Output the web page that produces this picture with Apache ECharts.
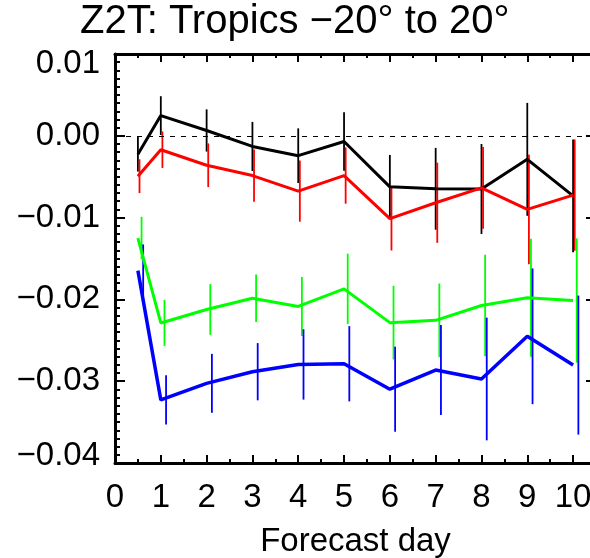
<!DOCTYPE html>
<html>
<head>
<meta charset="utf-8">
<script src="https://cdn.jsdelivr.net/npm/echarts@6/dist/echarts.min.js"></script>
<style>
  html, body { margin: 0; padding: 0; background: #fff; }
  #chart-container { width: 590px; height: 558px; }
</style>
</head>
<body>
<div id="chart-container"></div>
<script>
var days = [0.5, 1, 2, 3, 4, 5, 6, 7, 8, 9, 10];
var xTicks = [0, 1, 2, 3, 4, 5, 6, 7, 8, 9, 10];
var yTicks = [-0.04, -0.03, -0.02, -0.01, 0.00, 0.01];

var blackVals = [-0.00225, 0.00247, 0.00065, -0.0013, -0.00243, -0.00069, -0.00624, -0.00648, -0.0065, -0.00288, -0.00735];
var blackErr  = [0.0021, 0.00237, 0.00258, 0.003, 0.00334, 0.00358, 0.0039, 0.005, 0.0055, 0.0069, 0.0069];
var redVals   = [-0.00494, -0.0017, -0.0036, -0.00486, -0.00676, -0.00486, -0.01012, -0.00818, -0.00636, -0.009, -0.00725];
var redErr    = [0.00207, 0.00223, 0.00267, 0.0032, 0.00374, 0.00344, 0.0039, 0.0049, 0.005, 0.0067, 0.0068];
var greenVals = [-0.0125, -0.02288, -0.02123, -0.01985, -0.02086, -0.01871, -0.02284, -0.02256, -0.02074, -0.0198, -0.02013];
var greenErr  = [0.0026, 0.0028, 0.0031, 0.0029, 0.0036, 0.0043, 0.0045, 0.0045, 0.0062, 0.0072, 0.0076];
var blueVals  = [-0.01648, -0.03228, -0.03026, -0.02884, -0.02795, -0.02787, -0.03098, -0.02864, -0.02973, -0.02451, -0.02803];
var blueErr   = [0.0032, 0.003, 0.0036, 0.0035, 0.0043, 0.0046, 0.0052, 0.0055, 0.0075, 0.0083, 0.0085];

var dom = document.getElementById("chart-container");
var myChart = echarts.init(dom, null, { renderer: "canvas" });

var FONT = "Liberation Sans";

function lineData(vals) {
  return days.map(function (d, i) { return [d, vals[i]]; });
}
function errData(vals, errs) {
  return days.map(function (d, i) { return [d, vals[i], errs[i]]; });
}

function lineSeries(vals, color, width) {
  return {
    type: "line",
    data: lineData(vals),
    symbol: "none",
    lineStyle: { color: color, width: width },
    animation: false,
    z: 3
  };
}

// error bars, each colour shifted a little to the right
function errSeries(vals, errs, color, shift) {
  return {
    type: "custom",
    data: errData(vals, errs),
    encode: { x: 0, y: 1 },
    animation: false,
    z: 2,
    renderItem: function (params, api) {
      var x = api.value(0) + shift;
      var v = api.value(1);
      var e = api.value(2);
      var p1 = api.coord([x, v + e]);
      var p2 = api.coord([x, v - e]);
      return {
        type: "line",
        shape: { x1: p1[0], y1: p1[1], x2: p2[0], y2: p2[1] },
        style: { stroke: color, lineWidth: 1.8 }
      };
    }
  };
}

// top label pushed down, bottom label pushed up, like the original plot
function fmtY(v) {
  var s = Math.round(v * 100) / 100;
  if (Math.abs(s) < 1e-9) s = 0;
  var txt = (s < 0 ? "\u2212" : "") + Math.abs(s).toFixed(2);
  if (s === yTicks[yTicks.length - 1]) return "{hi|" + txt + "}";
  if (s === yTicks[0]) return "{lo|" + txt + "}";
  return txt;
}

var labelFont = { fontFamily: FONT, fontSize: 33, color: "#000" };

var axisLine = { show: true, onZero: false, lineStyle: { color: "#000", width: 3 } };

var option = {
  backgroundColor: "#fff",
  title: {
    text: "Z2T: Tropics \u221220\u00b0 to 20\u00b0",
    left: 80,
    top: 2,
    padding: 0,
    textStyle: { fontFamily: FONT, fontSize: 40, fontWeight: "normal", color: "#000" }
  },
  grid: { left: 115, top: 54, width: 481, height: 409, outerBoundsMode: "none", containLabel: false },
  xAxis: [
    {
      type: "value",
      position: "bottom",
      min: 0,
      max: 10.5,
      interval: 1,
      axisLine: axisLine,
      axisTick: { inside: true, length: 8, lineStyle: { color: "#000", width: 2 } },
      minorTick: { show: true, splitNumber: 2, length: 4, lineStyle: { color: "#000", width: 2 } },
      splitLine: { show: false },
      axisLabel: {
        showMaxLabel: false,
        margin: 18,
        fontFamily: FONT,
        fontSize: 33,
        color: "#000",
        formatter: function (v) { return xTicks.indexOf(v) >= 0 ? String(v) : ""; }
      },
      name: "Forecast day",
      nameLocation: "middle",
      nameGap: 62,
      nameTextStyle: { fontFamily: FONT, fontSize: 33, color: "#000" }
    },
    {
      type: "value",
      position: "top",
      min: 0,
      max: 10.5,
      interval: 1,
      axisLine: axisLine,
      axisTick: { inside: true, length: 8, lineStyle: { color: "#000", width: 2 } },
      minorTick: { show: true, splitNumber: 2, length: 4, lineStyle: { color: "#000", width: 2 } },
      splitLine: { show: false },
      axisLabel: { show: false }
    }
  ],
  yAxis: [
    {
      type: "value",
      position: "left",
      min: yTicks[0],
      max: yTicks[yTicks.length - 1],
      interval: 0.01,
      axisLine: axisLine,
      axisTick: { inside: true, length: 10, lineStyle: { color: "#000", width: 2 } },
      minorTick: { show: true, splitNumber: 10, length: 5, lineStyle: { color: "#000", width: 2 } },
      splitLine: { show: false },
      axisLabel: {
        margin: 15,
        fontFamily: FONT,
        fontSize: 33,
        color: "#000",
        formatter: fmtY,
        rich: {
          hi: Object.assign({ padding: [20, 0, 0, 0] }, labelFont),
          lo: Object.assign({ padding: [0, 0, 14, 0] }, labelFont)
        }
      }
    },
    {
      type: "value",
      position: "right",
      min: yTicks[0],
      max: yTicks[yTicks.length - 1],
      interval: 0.01,
      axisLine: axisLine,
      axisTick: { inside: true, length: 10, lineStyle: { color: "#000", width: 2 } },
      minorTick: { show: true, splitNumber: 10, length: 5, lineStyle: { color: "#000", width: 2 } },
      splitLine: { show: false },
      axisLabel: { show: false }
    }
  ],
  series: [
    {
      type: "line",
      data: [],
      markLine: {
        silent: true,
        symbol: "none",
        label: { show: false },
        lineStyle: { color: "#000", width: 1.2, type: [5, 6] },
        data: [{ yAxis: 0 }]
      },
      animation: false
    },
    errSeries(blackVals, blackErr, "#000000", 0),
    lineSeries(blackVals, "#000000", 3),
    errSeries(redVals, redErr, "#ff0000", 0.035),
    lineSeries(redVals, "#ff0000", 3),
    errSeries(greenVals, greenErr, "#00ff00", 0.08),
    lineSeries(greenVals, "#00ff00", 3),
    errSeries(blueVals, blueErr, "#0000ff", 0.115),
    lineSeries(blueVals, "#0000ff", 3.5)
  ]
};

myChart.setOption(option);
window.addEventListener("resize", myChart.resize);
</script>
</body>
</html>
